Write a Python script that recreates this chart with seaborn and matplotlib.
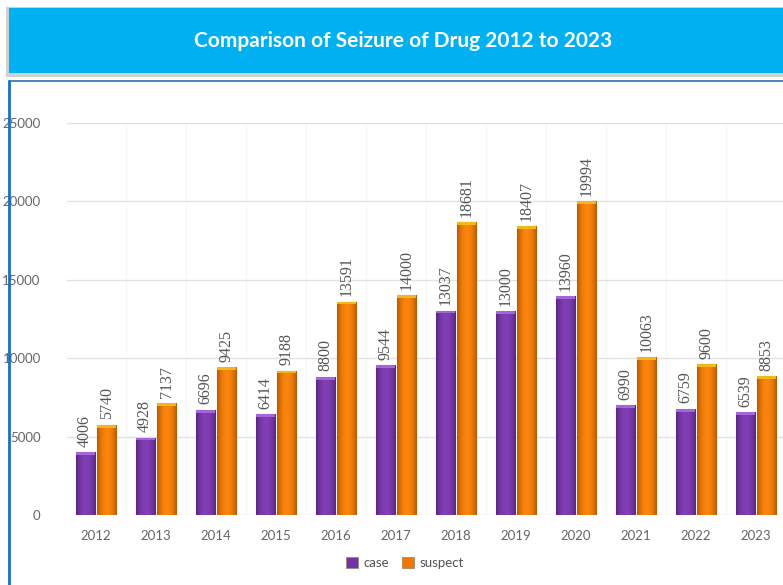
import matplotlib
matplotlib.use("Agg")
import matplotlib.pyplot as plt
import matplotlib.patches as mpatches
from matplotlib import font_manager as fm
import numpy as np
import pandas as pd
import seaborn as sns

years = ["2012", "2013", "2014", "2015", "2016", "2017", "2018", "2019", "2020", "2021", "2022", "2023"]
case = [4006, 4928, 6696, 6414, 8800, 9544, 13037, 13000, 13960, 6990, 6759, 6539]
suspect = [5740, 7137, 9425, 9188, 13591, 14000, 18681, 18407, 19994, 10063, 9600, 8853]
series_names = ["case", "suspect"]
yticks = [0, 5000, 10000, 15000, 20000, 25000]
title = "Comparison of Seizure of Drug 2012 to 2023"

df = pd.DataFrame({
    "year": years * 2,
    "value": case + suspect,
    "series": [series_names[0]] * len(years) + [series_names[1]] * len(years),
})

sns.set_theme(style="white")
plt.rcParams['font.family'] = ['Lato', 'DejaVu Sans']

serif_names = [f for f in fm.fontManager.ttflist if "serif" in f.name.lower() and "sans" not in f.name.lower()]
pref = [f for f in serif_names if f.name == "Liberation Serif" and f.style == "normal" and f.weight in (400, "normal")]
if not pref:
    pref = [f for f in serif_names if f.style == "normal"]
serif_path = pref[0].fname if pref else fm.findfont("serif")
label_fp = fm.FontProperties(fname=serif_path, size=11.5)

W, H = 783, 585
fig = plt.figure(figsize=(W / 100, H / 100), dpi=100)
fig.patch.set_facecolor("white")

# banner with shadow
fig.patches.append(mpatches.Rectangle((6 / W, 1 - 77 / H), 1, 70 / H, transform=fig.transFigure,
                                      facecolor="#d0d0d0", edgecolor="none", zorder=0))
fig.patches.append(mpatches.Rectangle((9 / W, 1 - 73 / H), 1, 65 / H, transform=fig.transFigure,
                                      facecolor="#00B0F0", edgecolor="none", zorder=1))
fig.text(403 / W, 1 - 41 / H, title, color="white", fontsize=15, fontweight="bold",
         ha="center", va="center", family=["Lato", "DejaVu Sans"])
# panel border (blue, top and left)
fig.add_artist(plt.Line2D([9 / W, 9 / W], [0, 1 - 81 / H], transform=fig.transFigure,
                          color="#1a6fc0", lw=2))
fig.add_artist(plt.Line2D([9 / W, 1], [1 - 81 / H, 1 - 81 / H], transform=fig.transFigure,
                          color="#2a6fb0", lw=1.2))

ax_left, ax_right = 67, 783
ax_top, ax_bot = 123, 515
ax = fig.add_axes([ax_left / W, 1 - ax_bot / H, (ax_right - ax_left) / W, (ax_bot - ax_top) / H])

palette = {"case": "#7432A8", "suspect": "#F07800"}
sns.barplot(data=df, x="year", y="value", hue="series", palette=palette, ax=ax,
            width=0.72, gap=0.12, edgecolor="#9a8a70", linewidth=0.8, legend=False, zorder=3)

ax.set_yticks(yticks)
ax.set_yticklabels([str(t) for t in yticks])
ax.set_xlabel("")
ax.set_ylabel("")
for s in ax.spines.values():
    s.set_visible(False)
ax.yaxis.grid(True, color="#e2e2e2", lw=1, zorder=0)
ax.set_xticks(np.arange(-0.5, len(years), 1), minor=True)
ax.xaxis.grid(True, which="minor", color="#f5f5f5", lw=0.8, zorder=0)
ax.tick_params(axis="y", length=0, pad=19, labelsize=9.5, labelcolor="#666666")
ax.tick_params(axis="x", which="both", length=0, pad=11, labelsize=9.5, labelcolor="#666666")
ax.set_axisbelow(True)

# shading: cylindrical gradient + thin top cap derived from each bar patch
caps = {"case": "#A466D8", "suspect": "#F2B81A"}
for cont, name in zip(ax.containers, series_names):
    base = np.array(matplotlib.colors.to_rgb(palette[name]))
    xs = np.linspace(-1, 1, 64)
    shade = 1 - 0.25 * xs ** 2
    grad = np.clip(base[None, None, :] * shade[None, :, None] + 0.05 * (1 - xs ** 2)[None, :, None], 0, 1)
    for p in cont.patches:
        x0, y0, w, h = p.get_x(), p.get_y(), p.get_width(), p.get_height()
        im = ax.imshow(grad, extent=[x0, x0 + w, y0, y0 + h], aspect="auto", zorder=3.5,
                       interpolation="bilinear")
        im.set_clip_path(p)
        ax.add_patch(mpatches.Rectangle((x0, y0 + h - 160), w, 160, facecolor=caps[name],
                                        edgecolor="none", zorder=3.6))
    for p, v in zip(cont.patches, cont.datavalues):
        ax.annotate(str(int(v)), xy=(p.get_x() + p.get_width() / 2, p.get_height()),
                    xytext=(0, 4), textcoords="offset points", rotation=90,
                    ha="center", va="bottom", fontproperties=label_fp, color="#555555",
                    zorder=5, annotation_clip=False)

ax.set_xlim(-0.483, (ax_right - 96) / 60)
ax.set_ylim(0, 25000)

handles = [mpatches.Patch(facecolor=palette[n], edgecolor="#9a8a70", lw=0.6, label=n) for n in series_names]
fig.legend(handles=handles, loc="center", bbox_to_anchor=(405 / W, 1 - 563 / H), ncol=2, frameon=False,
           handlelength=0.9, handleheight=0.9, handletextpad=0.4, columnspacing=1.0,
           fontsize=9.5, labelcolor="#555555")

fig.savefig("out.png", dpi=100)
